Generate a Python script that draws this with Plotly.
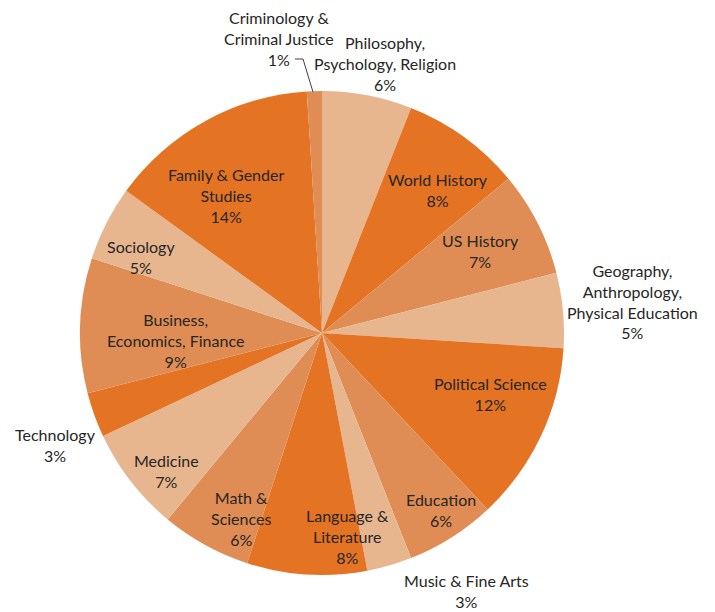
import plotly.graph_objects as go

# ---- data ----
categories = [
    "Philosophy, Psychology, Religion", "World History", "US History",
    "Geography, Anthropology, Physical Education", "Political Science",
    "Education", "Music & Fine Arts", "Language & Literature",
    "Math & Sciences", "Medicine", "Technology",
    "Business, Economics, Finance", "Sociology",
    "Family & Gender Studies", "Criminology & Criminal Justice",
]
shares = [6, 8, 7, 5, 12, 6, 3, 8, 6, 7, 3, 9, 5, 14, 1]
label_lines = [
    "Philosophy,<br>Psychology, Religion", "World History", "US History",
    "Geography,<br>Anthropology,<br>Physical Education", "Political Science",
    "Education", "Music & Fine Arts", "Language &<br>Literature",
    "Math &<br>Sciences", "Medicine", "Technology",
    "Business,<br>Economics, Finance", "Sociology",
    "Family & Gender<br>Studies", "Criminology &<br>Criminal Justice",
]

# ---- styling ----
W, H = 715, 612
LIGHT, DARK, MED = "#E7B68F", "#E47424", "#DF8D54"
cycle = [LIGHT, DARK, MED]
colors = [cycle[i % 3] for i in range(len(shares))]

# label centres in pixels (layout only)
label_pos = [
    (385, 64), (438, 190), (480, 251), (632, 301), (490, 394),
    (441, 510), (466, 591), (347, 536), (241, 518), (166, 471),
    (55, 445), (175, 340), (141, 257), (226, 196), (279, 38),
]

cx, cy, r = 322, 333, 242

fig = go.Figure(go.Pie(
    values=shares, labels=categories, sort=False, direction="clockwise",
    rotation=0, textinfo="none", marker=dict(colors=colors, line=dict(width=0)),
    showlegend=False, hoverinfo="label+percent",
    domain=dict(x=[(cx - r) / W, (cx + r) / W], y=[1 - (cy + r) / H, 1 - (cy - r) / H]),
))

def px(x, y):
    return x / W, 1 - y / H

annotations = []
for lab, val, (x, y) in zip(label_lines, shares, label_pos):
    ax, ay = px(x, y)
    annotations.append(dict(
        x=ax, y=ay, xref="paper", yref="paper", xanchor="center", yanchor="middle",
        text=f"{lab}<br>{val}%", showarrow=False, align="center",
        font=dict(family="Lato", size=16, color="#262626"),
    ))

pts = [px(295, 59), px(303, 59), px(313, 92)]
path = "M {} {} L {} {} L {} {}".format(*[c for p in pts for c in p])

fig.update_layout(
    width=W, height=H, margin=dict(l=0, r=0, t=0, b=0),
    paper_bgcolor="white", plot_bgcolor="white",
    annotations=annotations,
    shapes=[dict(type="path", path=path, xref="paper", yref="paper",
                 line=dict(color="#404040", width=1))],
)
fig.write_html("out.html", config={"displayModeBar": False},
               post_script="document.body.style.margin='0';document.body.style.overflow='hidden';")
